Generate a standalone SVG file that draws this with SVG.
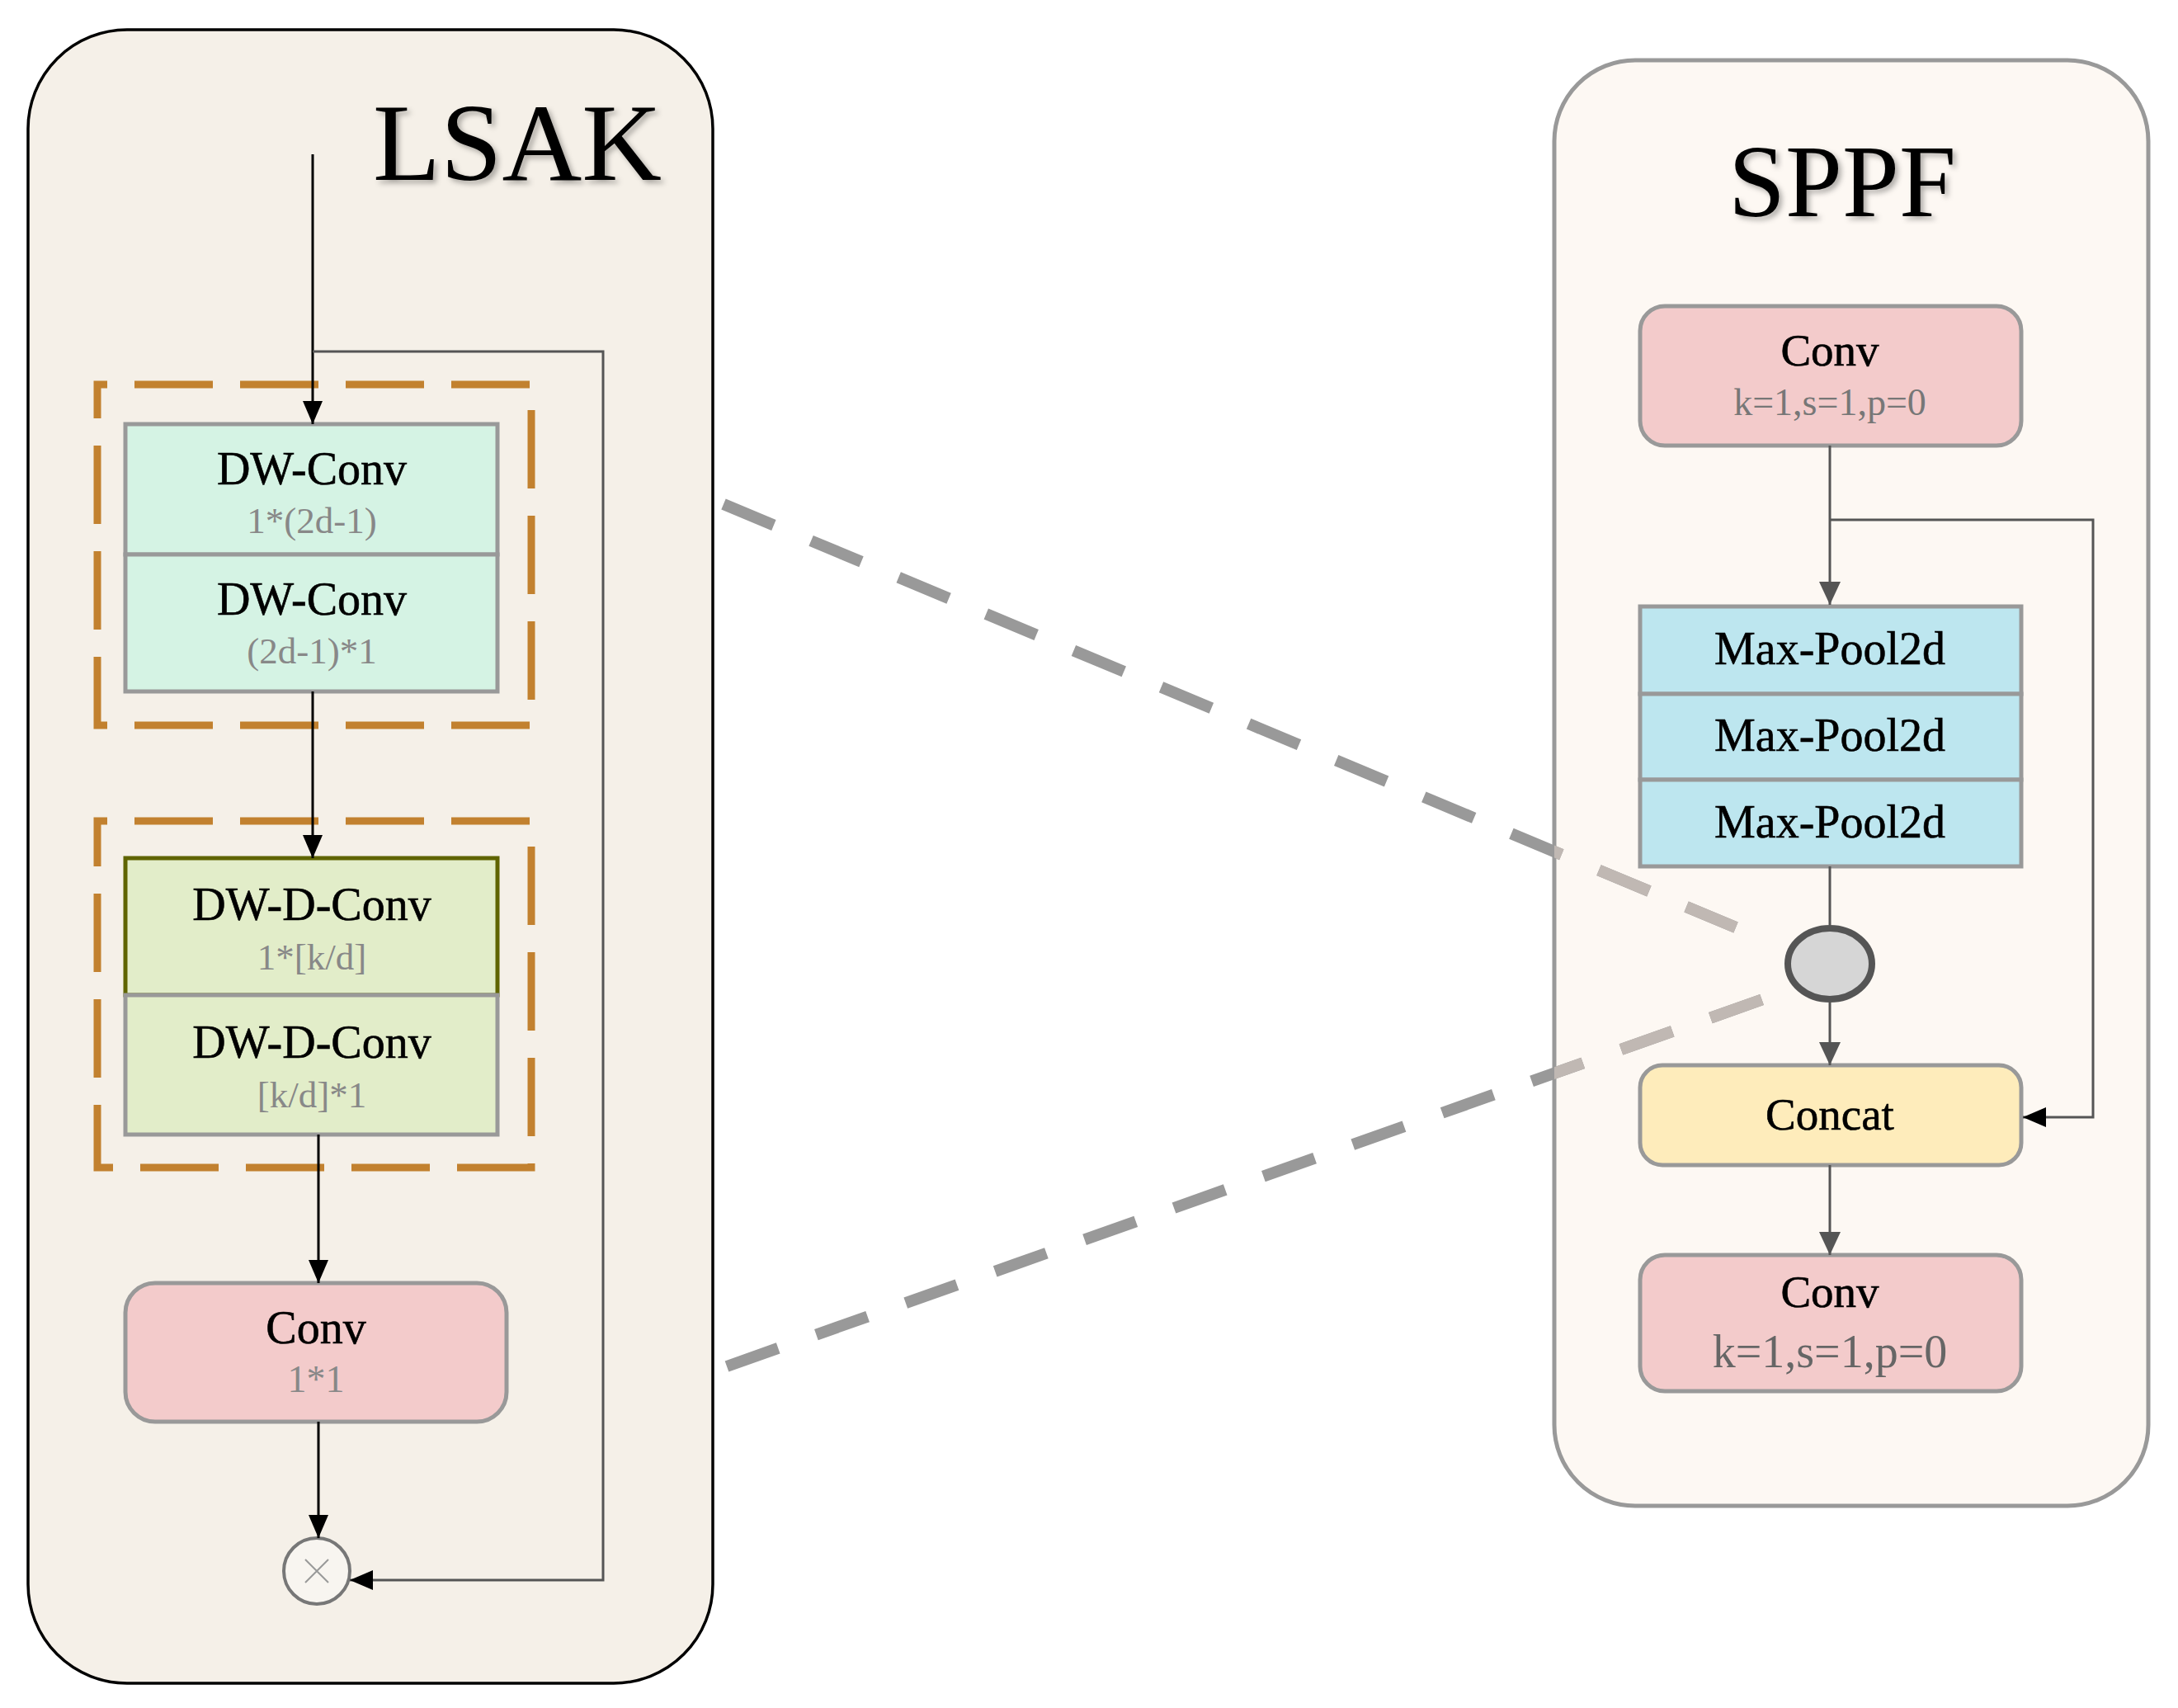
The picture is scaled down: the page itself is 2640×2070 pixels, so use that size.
<svg xmlns="http://www.w3.org/2000/svg" width="2640" height="2070" viewBox="0 0 2640 2070">
<style>
text{font-family:"Liberation Serif","Times New Roman",serif;text-anchor:middle}
.main{font-size:56px;fill:#000;stroke:#000;stroke-width:0.6}
.sub{font-size:45px;fill:#888}
.title{font-size:134px;fill:#000;filter:url(#sh)}
.box{stroke:#999;stroke-width:5}
.dash{fill:none;stroke:#c2812f;stroke-width:9;stroke-dasharray:95 33;stroke-dashoffset:83}
.cb{fill:none;stroke:#000;stroke-width:3}
.cg{fill:none;stroke:#555;stroke-width:3}
.zoom{fill:none;stroke-width:14;stroke-dasharray:66 49}
</style>
<defs>
<filter id="sh" x="-10%" y="-10%" width="130%" height="140%">
<feDropShadow dx="4" dy="4" stdDeviation="3" flood-color="#000" flood-opacity="0.3"/>
</filter>
<marker id="ab" markerUnits="userSpaceOnUse" viewBox="0 0 28 24" refX="28" refY="12" markerWidth="28" markerHeight="24" orient="auto"><path d="M0,0 L28,12 L0,24 z" fill="#000"/></marker>
<marker id="ag" markerUnits="userSpaceOnUse" viewBox="0 0 28 26" refX="28" refY="13" markerWidth="28" markerHeight="26" orient="auto"><path d="M0,0 L28,13 L0,26 z" fill="#555"/></marker>
<clipPath id="sppfclip"><rect x="1884" y="73" width="720" height="1752" rx="98"/></clipPath>
</defs>
<rect width="2640" height="2070" fill="#fff"/>
<g id="lsak-panel">
<rect x="34" y="36" width="830" height="2004" rx="120" fill="#f5f0e8" stroke="#000" stroke-width="3.5"/>
<text class="title" x="627" y="218">LSAK</text>
</g>
<g id="sppf-panel">
<rect x="1884" y="73" width="720" height="1752" rx="98" fill="#fdf8f3" stroke="#999" stroke-width="5"/>
<text class="title" x="2233" y="262" style="font-size:124px">SPPF</text>
</g>
<g id="zoom-lines">
<path class="zoom" stroke="#999" d="M877,611 L2104,1124 M881,1656 L2137,1211"/>
<g clip-path="url(#sppfclip)"><path class="zoom" stroke="#c0b8b3" d="M877,611 L2104,1124 M881,1656 L2137,1211"/></g>
</g>
<g id="dw-group">
<rect class="dash" x="118" y="466" width="526" height="413"/>
</g>
<g id="dw-conv-1">
<rect class="box" x="152" y="514" width="451" height="158" fill="#d5f3e4"/>
<text class="main" x="378" y="587">DW-Conv</text>
<text class="sub" x="378" y="646">1*(2d-1)</text>
</g>
<g id="dw-conv-2">
<rect class="box" x="152" y="672" width="451" height="166" fill="#d5f3e4"/>
<text class="main" x="378" y="745">DW-Conv</text>
<text class="sub" x="378" y="804">(2d-1)*1</text>
</g>
<g id="dwd-group">
<rect class="dash" x="118" y="995" width="526" height="420"/>
</g>
<g id="dw-d-conv-1">
<rect x="152" y="1040" width="451" height="166" fill="#e2edc9" stroke="#5f6400" stroke-width="5"/>
<text class="main" x="378" y="1115">DW-D-Conv</text>
<text class="sub" x="378" y="1175">1*[k/d]</text>
</g>
<g id="dw-d-conv-2">
<rect class="box" x="152" y="1206" width="451" height="169" fill="#e2edc9"/>
<text class="main" x="378" y="1282">DW-D-Conv</text>
<text class="sub" x="378" y="1342">[k/d]*1</text>
</g>
<g id="lsak-conv">
<rect class="box" x="152" y="1555" width="462" height="168" rx="36" fill="#f3cbcb"/>
<text class="main" x="383" y="1628">Conv</text>
<text class="sub" x="383" y="1687" style="font-size:46px">1*1</text>
</g>
<g id="multiply">
<circle cx="384" cy="1904" r="40" fill="#f8f5f0" stroke="#777" stroke-width="4"/>
<path d="M370,1890 L398,1918 M398,1890 L370,1918" stroke="#999" stroke-width="2" fill="none"/>
</g>
<g id="sppf-conv-1">
<rect class="box" x="1988" y="371" width="462" height="169" rx="30" fill="#f3cbcb"/>
<text class="main" x="2218" y="443" style="font-size:55px">Conv</text>
<text class="sub" x="2218" y="503" style="fill:#777;font-size:46px">k=1,s=1,p=0</text>
</g>
<g id="maxpool-1">
<rect class="box" x="1988" y="735" width="462" height="106" fill="#bde6ef"/>
<text class="main" x="2218" y="805">Max-Pool2d</text>
</g>
<g id="maxpool-2">
<rect class="box" x="1988" y="841" width="462" height="104" fill="#bde6ef"/>
<text class="main" x="2218" y="910">Max-Pool2d</text>
</g>
<g id="maxpool-3">
<rect class="box" x="1988" y="945" width="462" height="105" fill="#bde6ef"/>
<text class="main" x="2218" y="1015">Max-Pool2d</text>
</g>
<g id="ellipse-node">
<ellipse cx="2218" cy="1168" rx="51" ry="43" fill="#d6d6d6" stroke="#555" stroke-width="8"/>
</g>
<g id="concat">
<rect class="box" x="1988" y="1291" width="462" height="121" rx="27" fill="#feecbb"/>
<text class="main" x="2218" y="1369" style="font-size:55px">Concat</text>
</g>
<g id="sppf-conv-2">
<rect class="box" x="1988" y="1521" width="462" height="165" rx="30" fill="#f3cbcb"/>
<text class="main" x="2218" y="1584" style="font-size:55px">Conv</text>
<text class="sub" x="2218" y="1657" style="fill:#666;font-size:56px">k=1,s=1,p=0</text>
</g>
<g id="connectors">
<path class="cb" d="M379,187 V514" marker-end="url(#ab)"/>
<path class="cg" d="M379,426 H731 V1915 H424" marker-end="url(#ab)"/>
<path class="cb" d="M379,838 V1040" marker-end="url(#ab)"/>
<path class="cb" d="M386,1375 V1555" marker-end="url(#ab)"/>
<path class="cb" d="M386,1723 V1864" marker-end="url(#ab)"/>
<path class="cg" d="M2218,540 V733" marker-end="url(#ag)"/>
<path class="cg" d="M2218,630 H2537 V1354 H2452" marker-end="url(#ab)"/>
<path class="cg" d="M2218,1050 V1121"/>
<path class="cg" d="M2218,1215 V1291" marker-end="url(#ag)"/>
<path class="cg" d="M2218,1412 V1521" marker-end="url(#ag)"/>
</g>
</svg>
